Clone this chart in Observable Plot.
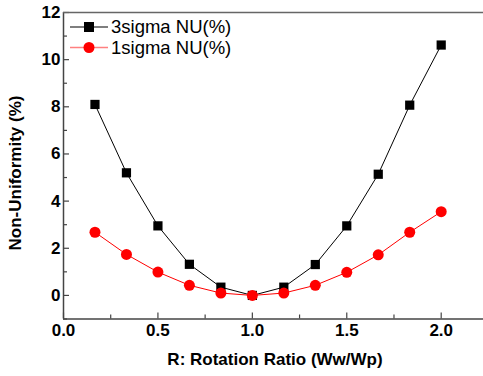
<!DOCTYPE html>
<html>
<head>
<meta charset="utf-8">
<script src="https://cdn.jsdelivr.net/npm/d3@7"></script>
<script src="https://cdn.jsdelivr.net/npm/@observablehq/plot@0.6"></script>
<style>
  html, body { margin: 0; padding: 0; background: #fff; }
  svg { display: block; }
</style>
</head>
<body>
<div id="chart"></div>
<script>
// Data
const ratios = [1/6, 2/6, 3/6, 4/6, 5/6, 1, 7/6, 8/6, 9/6, 10/6, 11/6, 2];
const sigma3 = [8.1, 5.2, 2.95, 1.32, 0.35, 0.0, 0.35, 1.31, 2.95, 5.14, 8.07, 10.62];
const sigma1 = [2.68, 1.74, 0.99, 0.43, 0.1, 0.0, 0.1, 0.43, 0.98, 1.72, 2.68, 3.55];
const seriesNames = ["3sigma NU(%)", "1sigma NU(%)"];
const xMajorTicks = [0, 0.5, 1.0, 1.5, 2.0];
const xMinorTicks = [0.25, 0.75, 1.25, 1.75];
const yMajorTicks = [0, 2, 4, 6, 8, 10, 12];
const yMinorTicks = [-1, 1, 3, 5, 7, 9, 11];
const xLabel = "R: Rotation Ratio (Ww/Wp)";
const yLabel = "Non-Uniformity (%)";

const d3data = ratios.map((r, i) => ({x: r, y: sigma3[i]}));
const d1data = ratios.map((r, i) => ({x: r, y: sigma1[i]}));

const font = "Liberation Sans, Arial, sans-serif";
const frameColor = "#444";

const W = 483, H = 376, ML = 63, MR = 0, MT = 12, MB = 57.5;
const FW = W - ML - MR, FH = H - MT - MB;

const plot = Plot.plot({
  width: W,
  height: H,
  marginLeft: ML,
  marginRight: MR,
  marginTop: MT,
  marginBottom: MB,
  style: {fontFamily: font, background: "#fff", overflow: "visible"},
  x: {domain: [0, 2.224]},
  y: {domain: [-1, 12]},
  marks: [
    // inward ticks
    Plot.tickY(yMajorTicks, {y: d => d, insetRight: FW - 6, stroke: frameColor, strokeWidth: 1.2}),
    Plot.tickY(yMinorTicks, {y: d => d, insetRight: FW - 4, stroke: frameColor, strokeWidth: 1.2}),
    Plot.tickX(xMajorTicks, {x: d => d, insetTop: FH - 6, stroke: frameColor, strokeWidth: 1.2}),
    Plot.tickX(xMinorTicks, {x: d => d, insetTop: FH - 4, stroke: frameColor, strokeWidth: 1.2}),
    Plot.ruleX([0], {stroke: frameColor, strokeWidth: 1.5}),
    Plot.ruleY([-1], {stroke: frameColor, strokeWidth: 1.5}),
    Plot.ruleY([12], {stroke: "#666", strokeWidth: 1.5}),
    // labels
    Plot.axisY(yMajorTicks, {tickSize: 0, tickPadding: 3, fontSize: 17, fontWeight: "bold", fill: "#000", label: null, tickFormat: d => String(d)}),
    Plot.axisX(xMajorTicks, {tickSize: 0, tickPadding: 5, fontSize: 17, fontWeight: "bold", fill: "#000", label: null, tickFormat: d => d.toFixed(1)}),
    // series
    Plot.line(d3data, {x: "x", y: "y", stroke: "#000", strokeWidth: 1}),
    Plot.dot(d3data, {x: "x", y: "y", symbol: "square", r: 5.2, fill: "#000", stroke: "none"}),
    Plot.line(d1data, {x: "x", y: "y", stroke: "#ff0000", strokeWidth: 1}),
    Plot.dot(d1data, {x: "x", y: "y", symbol: "circle", r: 5.5, fill: "#ff0000", stroke: "none"})
  ]
});

const svg = d3.select(plot);
// axis titles
svg.append("text")
  .attr("x", 275).attr("y", 365)
  .attr("text-anchor", "middle")
  .attr("font-family", font).attr("font-size", 17).attr("font-weight", "bold")
  .text(xLabel);
svg.append("text")
  .attr("transform", "translate(21,173) rotate(-90)")
  .attr("text-anchor", "middle")
  .attr("font-family", font).attr("font-size", 17).attr("font-weight", "bold")
  .text(yLabel);

// legend
const leg = svg.append("g").attr("text-anchor", "start");
const rows = [
  {name: seriesNames[0], line: "#555", fill: "#000", shape: "square", y: 27},
  {name: seriesNames[1], line: "#ff8080", fill: "#ff0000", shape: "circle", y: 47.5}
];
rows.forEach(r => {
  leg.append("line").attr("x1", 70).attr("x2", 108).attr("y1", r.y).attr("y2", r.y)
    .attr("stroke", r.line).attr("stroke-width", 1.5);
  if (r.shape === "square") {
    leg.append("rect").attr("x", 89 - 5).attr("y", r.y - 5).attr("width", 10).attr("height", 10).attr("fill", r.fill);
  } else {
    leg.append("circle").attr("cx", 89).attr("cy", r.y).attr("r", 5.5).attr("fill", r.fill);
  }
  leg.append("text").attr("x", 111).attr("y", r.y).attr("dy", "0.35em")
    .attr("text-anchor", "start")
    .attr("font-family", font).attr("font-size", 18.5).attr("fill", "#000")
    .text(r.name);
});

document.getElementById("chart").appendChild(plot);
</script>
</body>
</html>
